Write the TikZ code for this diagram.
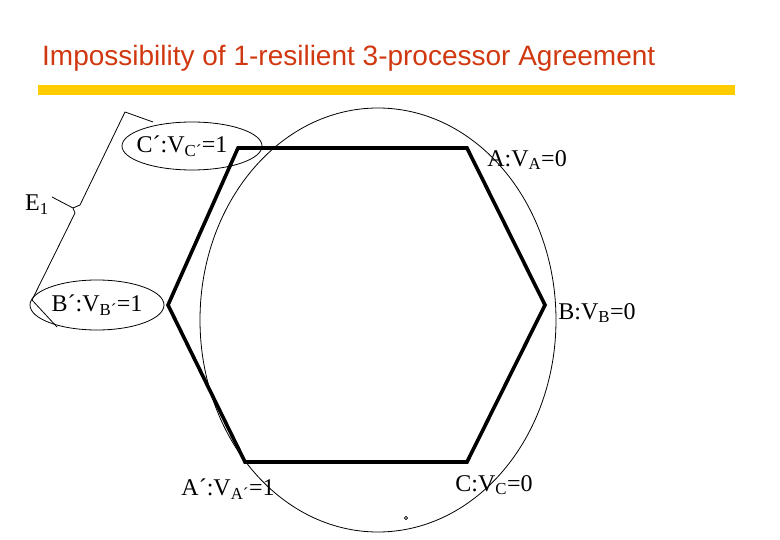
\documentclass[tikz,border=0pt]{standalone}
\usepackage{fontspec}
\setmainfont{Liberation Serif}
\newfontfamily\titlefont{Liberation Sans}
\definecolor{titlered}{RGB}{208,56,16}
\definecolor{baryellow}{RGB}{255,204,0}
\begin{document}
\begin{tikzpicture}[x=1pt,y=-1pt,
  lbl/.style={inner sep=0pt,font=\fontsize{24}{26}\selectfont},
  thin line/.style={line width=0.8pt},
  hexline/.style={line width=3.6pt,line join=miter}]
\useasboundingbox (0,0) rectangle (780,540);
% title
\node[anchor=west,inner sep=0pt,text=titlered,font=\titlefont\fontsize{28}{32}\selectfont] (title) at (42,58) {Impossibility of 1-resilient 3-processor Agreement};
\fill[baryellow] (38,85) rectangle (735,95);
% hexagon
\coordinate (hTL) at (238,148);
\coordinate (hTR) at (467,148);
\coordinate (hR) at (545,305);
\coordinate (hBR) at (467,462);
\coordinate (hBL) at (245,462);
\coordinate (hL) at (168,305);
\draw[hexline] (hTL) -- (hTR) -- (hR) -- (hBR) -- (hBL) -- (hL) -- cycle;
% big ellipse
\draw[thin line] (378,320) ellipse [x radius=178, y radius=212];
% small ellipses
\draw[thin line] (192,146) ellipse [x radius=70, y radius=24];
\draw[thin line] (97,305) ellipse [x radius=67, y radius=25];
% brace
\draw[thin line] (153,122) -- (125,112) -- (80,205) -- (73,208);
\draw[thin line] (52,197) -- (73,208) -- (75,213) -- (32,300) -- (57,327);
% labels
\node[lbl] (cp) at (182,146) {C´:V\textsubscript{C´}=1};
\node[lbl] (a) at (527,160) {A:V\textsubscript{A}=0};
\node[lbl] (e1) at (37,205) {E\textsubscript{1}};
\node[lbl] (bp) at (97,305) {B´:V\textsubscript{B´}=1};
\node[lbl] (b) at (597,313) {B:V\textsubscript{B}=0};
\node[lbl] (ap) at (228,489) {A´:V\textsubscript{A´}=1};
\node[lbl] (c) at (494,485) {C:V\textsubscript{C}=0};
\draw[line width=0.6pt] (406,518) circle (1.6);
\end{tikzpicture}
\end{document}
